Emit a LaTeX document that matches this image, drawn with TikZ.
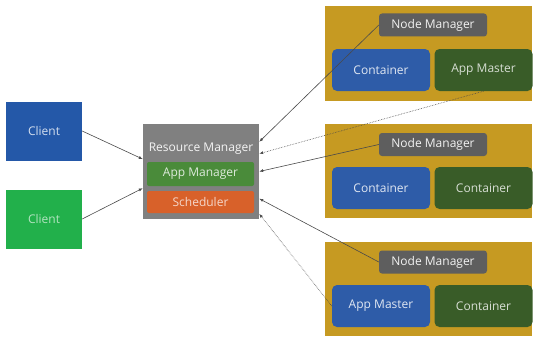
\documentclass[tikz,border=0pt]{standalone}
\usepackage{fontspec}
\setmainfont{Open Sans}
\usetikzlibrary{arrows.meta}

\definecolor{clientblue}{HTML}{2458A8}
\definecolor{clientgreen}{HTML}{22B04B}
\definecolor{rmgray}{HTML}{808080}
\definecolor{amgreen}{HTML}{4A8B3A}
\definecolor{schedorange}{HTML}{D8612A}
\definecolor{nodegold}{HTML}{C69A22}
\definecolor{nmgray}{HTML}{5E5E5E}
\definecolor{contblue}{HTML}{2E5CA8}
\definecolor{contgreen}{HTML}{395C28}
\definecolor{linkgray}{HTML}{4A4A4A}

\tikzset{
    box/.style={inner sep=0pt, font=\fontsize{12}{14}\selectfont},
    client/.style={box, minimum width=76pt, minimum height=59pt},
    nodebg/.style={box, fill=nodegold, minimum width=207pt, minimum height=94pt},
    nmbox/.style={box, fill=nmgray, text=white!92!nmgray, rounded corners=3pt, minimum width=108pt, minimum height=23pt},
    contbox/.style={box, rounded corners=5pt, minimum width=98pt, minimum height=42pt},
    link/.style={draw=linkgray, line width=0.6pt, -{Latex[length=4pt,width=3pt]}},
    dotlink/.style={link, densely dotted}
}

\begin{document}
\begin{tikzpicture}[x=1pt, y=-1pt]
    \useasboundingbox (0,0) rectangle (534,337);

    % Clients
    \node[client, fill=clientblue, text=white!80!clientblue] (client1) at (44,131) {Client};
    \node[client, fill=clientgreen, text=white!65!clientgreen] (client2) at (44,219) {Client};

    % Resource Manager
    \node[box, fill=rmgray, minimum width=116pt, minimum height=95pt] (rm) at (201,171.5) {};
    \node[box, text=white!92!rmgray] (rmtitle) at (201,149) {Resource Manager};
    \node[box, fill=amgreen, text=white!82!amgreen, rounded corners=2pt, minimum width=107pt, minimum height=24pt] (appmgr) at (200.5,174) {App Manager};
    \node[box, fill=schedorange, text=white!75!schedorange, rounded corners=2pt, minimum width=107pt, minimum height=22pt] (sched) at (200.5,202) {Scheduler};

    % Node 1
    \node[nodebg] (node1) at (428.5,53.5) {};
    \node[nmbox] (nm1) at (433,25) {Node Manager};
    \node[contbox, fill=contblue, text=white!85!contblue] (cont1a) at (381,70) {Container};
    \node[contbox, fill=contgreen, text=white!80!contgreen] (am1) at (483.5,70) {App Master};

    % Node 2
    \node[nodebg] (node2) at (428.5,171) {};
    \node[nmbox] (nm2) at (433,144.5) {Node Manager};
    \node[contbox, fill=contblue, text=white!85!contblue] (cont2a) at (381,188) {Container};
    \node[contbox, fill=contgreen, text=white!80!contgreen] (cont2b) at (483.5,188) {Container};

    % Node 3
    \node[nodebg] (node3) at (428.5,288.5) {};
    \node[nmbox] (nm3) at (433,262) {Node Manager};
    \node[contbox, fill=contblue, text=white!85!contblue] (am3) at (381,306) {App Master};
    \node[contbox, fill=contgreen, text=white!80!contgreen] (cont3b) at (483.5,306) {Container};

    % Links
    \draw[link] (client1.east) -- (rm.168);
    \draw[link] (client2.east) -- (rm.196);
    \draw[link] (nm1.west) -- (rm.27);
    \draw[dotlink] (am1.south) -- (rm.17);
    \draw[link] (nm2.west) -- (rm.0);
    \draw[link] (nm3.west) -- (rm.-25);
    \draw[dotlink] (am3.west) -- (rm.-36);
\end{tikzpicture}
\end{document}
